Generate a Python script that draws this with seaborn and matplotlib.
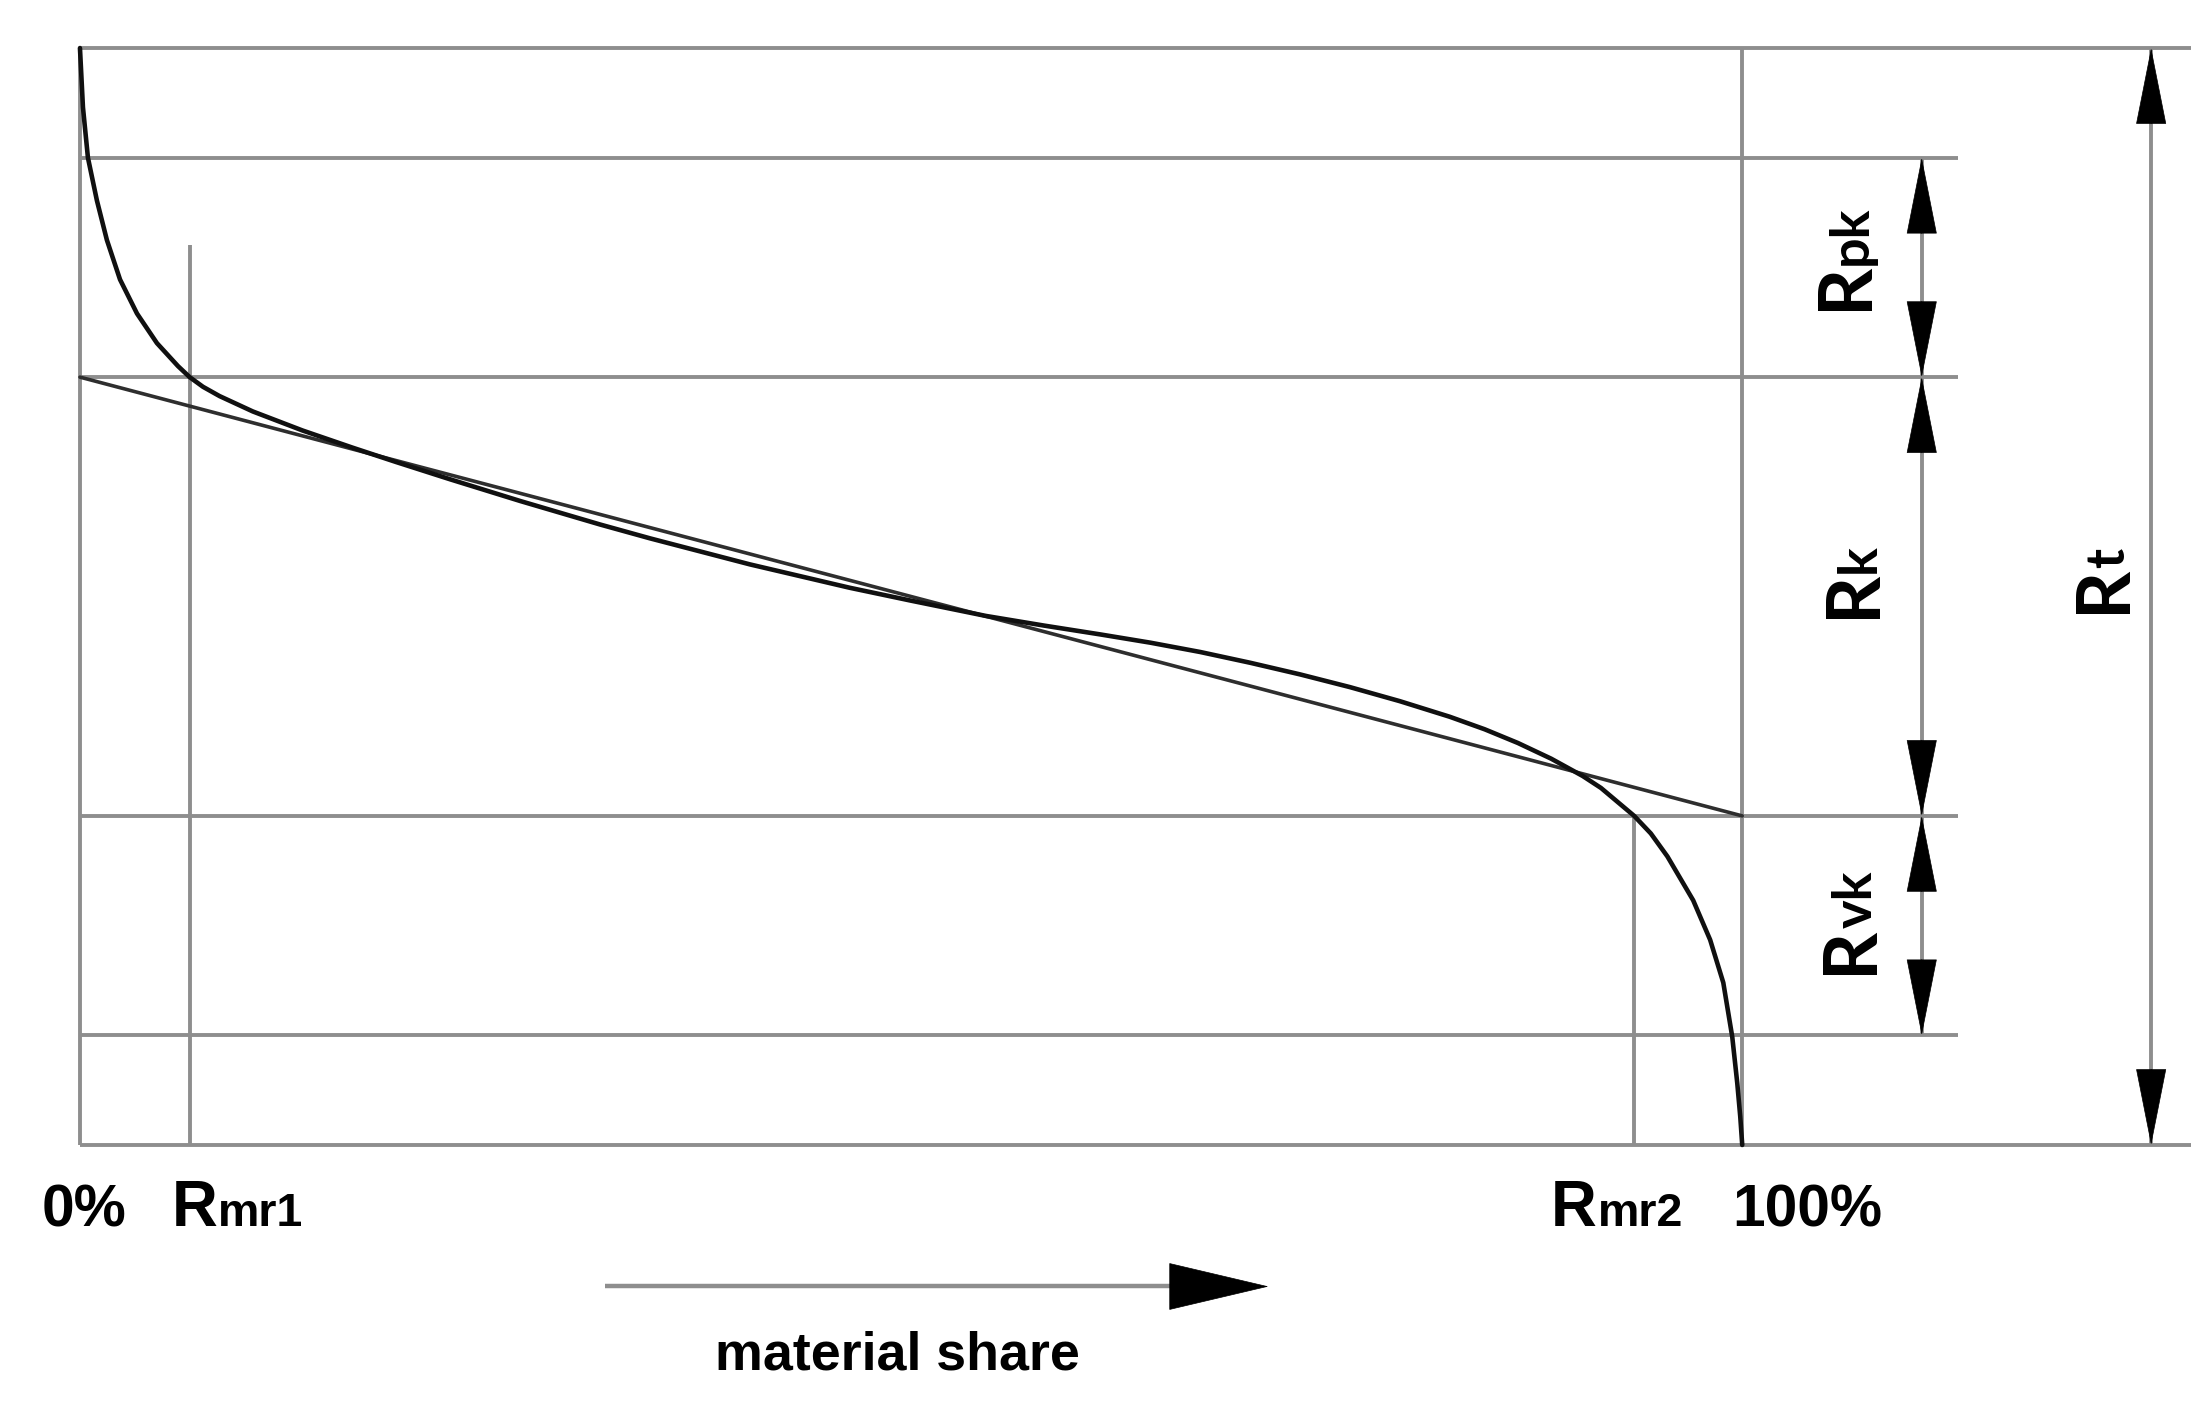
"""
Abbott-Firestone (material ratio) curve with Rk parameter construction.
"""
import numpy as np
import pandas as pd
import matplotlib
matplotlib.use('Agg')
import matplotlib.pyplot as plt
from matplotlib import font_manager
from matplotlib.transforms import offset_copy
import seaborn as sns

# material ratio curve (x: material share %, y: height % of Rt)
share_pct = [0, 0.18, 0.48, 1.02, 1.62, 2.41, 3.43, 4.63, 5.9, 6.6, 7.4, 8.4, 10.4, 13.4,
             16.4, 19.0, 22.3, 26.5, 31.3, 34.3, 40.3, 46.3, 50.0, 54.5, 58.0, 61.4,
             64.4, 67.4, 70.4, 73.4, 76.4, 79.4, 82.4, 84.5, 86.5, 88.5, 90.4, 91.5,
             93.5, 94.5, 95.5, 97.05, 98.07, 98.86, 99.4, 99.7, 99.88, 100]
height_pct = [100, 94.6, 90.0, 86.1, 82.5, 78.9, 75.8, 73.1, 71.0, 70.0, 69.12, 68.27, 66.87, 65.13,
              63.57, 62.27, 60.67, 58.7, 56.56, 55.3, 52.93, 50.8, 49.62, 48.23, 47.35, 46.54,
              45.79, 44.94, 43.96, 42.9, 41.74, 40.46, 39.04, 37.9, 36.65, 35.22, 33.64, 32.55,
              30.0, 28.4, 26.3, 22.3, 18.7, 14.8, 9.85, 5.65, 2.6, 0]

# equivalent straight line of the core zone
line_share = [0, 100]
line_height = [70, 30]

# horizontal levels
outer_levels = [0, 100]          # profile bottom / top (Rt)
inner_levels = [10, 30, 70, 90]  # Rvk, Rk, Rpk limits

# material ratios
rmr1, rmr2 = 6.6, 93.5
rmr1_top = 82

# parameters measured on the right
param_names = [('R', 'pk'), ('R', 'k'), ('R', 'vk')]
param_spans = [(70, 90), (30, 70), (10, 30)]
total_name = ('R', 't')
total_span = (0, 100)

bottom_labels = [('0%', ''), ('R', 'mr1'), ('R', 'mr2'), ('100%', '')]
axis_title = 'material share'


def pick_family(*names):
    for n in names:
        try:
            font_manager.findfont(font_manager.FontProperties(family=n), fallback_to_default=False)
            return n
        except ValueError:
            continue
    return 'DejaVu Sans'


sns.set_theme(style='white')
NARROW = pick_family('Liberation Sans Narrow', 'Liberation Sans')
ROUND = pick_family('Lato', 'Open Sans', 'DejaVu Sans')
narrow_scale = 1.0 if NARROW == 'Liberation Sans Narrow' else 0.88

GRAY = '#8e8e8e'
fig = plt.figure(figsize=(22.11, 14.02), dpi=100)
ax = fig.add_axes([0, 0, 1, 1])
ax.set_xlim(-4.81, 128.2)
ax.set_ylim(-23.43, 104.38)
ax.axis('off')

# frame and reference lines
ax.hlines(outer_levels, 0, 127, color=GRAY, lw=2.8)
ax.hlines(inner_levels, 0, 113, color=GRAY, lw=2.8)
ax.vlines([0, 100], 0, 100, color=GRAY, lw=2.8)
ax.vlines(rmr1, 0, rmr1_top, color=GRAY, lw=2.8)
ax.vlines(rmr2, 0, inner_levels[1], color=GRAY, lw=2.8)

# curve and straight line
df = pd.DataFrame({'share': share_pct, 'height': height_pct})
sns.lineplot(x=line_share, y=line_height, color='#2e2e2e', lw=2.6, ax=ax)
sns.lineplot(data=df, x='share', y='height', color='#101010', lw=3.3, ax=ax, sort=False)


def head(x0, y0, x1, y1, length, width):
    ax.annotate('', xy=(x1, y1), xytext=(x0, y0),
                arrowprops=dict(arrowstyle=f'-|>,head_length={length},head_width={width}',
                                mutation_scale=10, color='black', lw=0.5,
                                shrinkA=0, shrinkB=0))


def dim_arrow(x, lo, hi, hl=6.9):
    ax.vlines(x, lo, hi, color=GRAY, lw=2.8)
    head(x, hi - hl, x, hi, 5.3, 1.05)
    head(x, lo + hl, x, lo, 5.3, 1.05)


def split_label(x, y, big, small, fs_big, fs_small, family, rotation=0, center=False):
    kw = dict(fontweight='bold', family=family, rotation=rotation, rotation_mode='anchor',
              ha='left', va='baseline', color='black')
    t1 = ax.text(x, y, big, fontsize=fs_big, **kw)
    t2 = ax.text(x, y, small, fontsize=fs_small, **kw)
    r = fig.canvas.get_renderer()
    e1, e2 = t1.get_window_extent(r), t2.get_window_extent(r)
    l1 = e1.width + 1 if rotation == 0 else e1.height - 3
    l2 = e2.width if rotation == 0 else e2.height
    start = -(l1 + l2) / 2 if center else 0
    if rotation == 0:
        t1.set_transform(offset_copy(ax.transData, fig=fig, x=start, y=0, units='dots'))
        t2.set_transform(offset_copy(ax.transData, fig=fig, x=start + l1, y=0, units='dots'))
    else:
        t1.set_transform(offset_copy(ax.transData, fig=fig, x=0, y=start, units='dots'))
        t2.set_transform(offset_copy(ax.transData, fig=fig, x=0, y=start + l1, units='dots'))


for (lo, hi) in param_spans:
    dim_arrow(110.8, lo, hi)
dim_arrow(124.6, *total_span)

for (big, small), lx, ly in zip(param_names, [107.5, 108.0, 107.8], [80.9, 51.4, 20.3]):
    split_label(lx, ly, big, small, 54, 39, ROUND, rotation=90, center=True)
split_label(123.0, 51.5, total_name[0], total_name[1], 54, 39, ROUND,
            rotation=90, center=True)

# bottom labels
for (big, small), bx in zip(bottom_labels, [-2.3, 5.5, 88.5, 99.4]):
    if small:
        split_label(bx, -7.4, big, small, 52 * narrow_scale, 38 * narrow_scale, NARROW)
    else:
        ax.text(bx, -7.4, big, fontsize=48 * narrow_scale, fontweight='bold', family=NARROW,
                ha='left', va='baseline', color='black')

# material share arrow
ax.hlines(-12.9, 31.6, 66.5, color=GRAY, lw=3.2)
head(65.6, -12.9, 71.5, -12.9, 7.0, 1.65)
ax.text(49.2, -20.5, axis_title, fontsize=44 * narrow_scale, fontweight='bold', family=NARROW,
        ha='center', va='baseline', color='black')

fig.savefig('out.png', dpi=100)
